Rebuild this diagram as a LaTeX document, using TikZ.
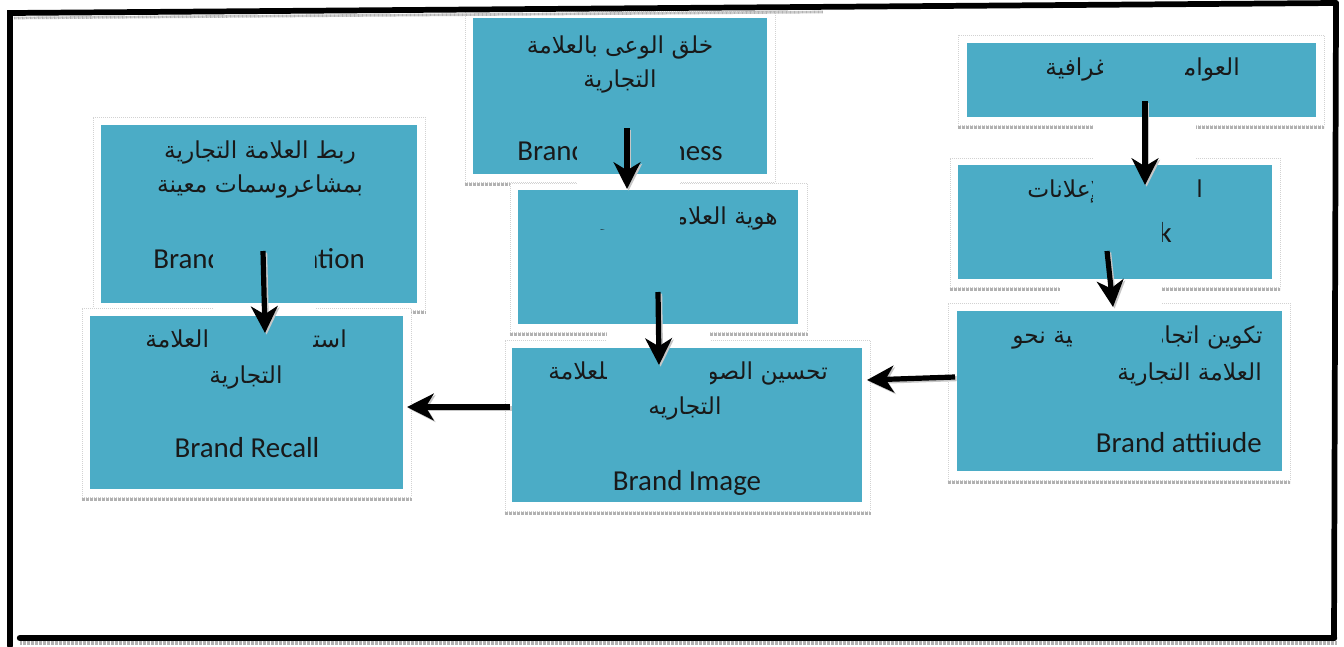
\documentclass[tikz,border=0pt]{standalone}
\usepackage{fontspec}
\usetikzlibrary{arrows.meta,fit}
\newfontfamily\arabicfont[Script=Arabic]{DejaVu Sans}
\newfontfamily\latfont{Carlito}
\TeXXeTstate=1
\definecolor{tealc}{HTML}{4BACC6}
\tikzset{
  boxfill/.style={fill=tealc, draw=none, inner sep=0pt},
  framebox/.style={fill=white, draw=gray!35, densely dotted, line width=0.5pt, inner sep=0pt},
  shadowline/.style={draw=gray!60, line width=2.5pt, dash pattern=on 0.6pt off 0.4pt},
  ar/.style={font=\arabicfont\fontsize{17.5}{21}\selectfont, inner sep=0pt, text=black!90},
  la/.style={font=\latfont\fontsize{21.7}{26}\selectfont, inner sep=0pt, text=black!90},
  arr/.style={line width=3.9pt, -{Stealth[length=20pt,width=20pt,inset=6pt]}},
  arrshadow/.style={line width=3.9pt, draw=gray!45, -{Stealth[length=20pt,width=20pt,inset=6pt]}, transform canvas={xshift=1.2pt,yshift=-1.2pt}},
  border/.style={line width=4.3pt, line cap=round},
  patch/.style={fill=tealc},
  wpatch/.style={fill=white}
}
\begin{document}
\begin{tikzpicture}[x=0.75pt,y=-0.75pt]
\useasboundingbox (0,0) rectangle (1344,646);
\fill[white] (0,0) rectangle (1344,646);

% ---------- A : awareness ----------
\node[framebox, fit={(465,11) (775,182)}] (Af) {};
\draw[shadowline] ([yshift=-1.6pt]Af.south west) -- ([yshift=-1.6pt]Af.south east);
\node[boxfill, fit={(473,18) (767,174)}] (A) {};
\node[ar, anchor=base] (A1) at (620,53) {\beginR خلق الوعى بالعلامة\endR};
\node[ar, anchor=base] (A2) at (620,87) {\beginR التجارية\endR};
\node[la, anchor=base west] (A3) at (517,160) {Brand};
\node[la, anchor=base east] (A4) at (723,160) {Awareness};

% ---------- B : demographic ----------
\node[framebox, fit={(958,35) (1324,125)}] (Bf) {};
\draw[shadowline] ([yshift=-1.6pt]Bf.south west) -- ([yshift=-1.6pt]Bf.south east);
\node[boxfill, fit={(967,43) (1316,117)}] (B) {};
\node[ar, anchor=base east] (B1) at (1240,75) {\beginR العوامل\endR};
\node[ar, anchor=base west] (B2) at (1045,75) {\beginR الديموغرافية\endR};

% ---------- G : association ----------
\node[framebox, fit={(93,117) (425,310)}] (Gf) {};
\draw[shadowline] ([yshift=-1.6pt]Gf.south west) -- ([yshift=-1.6pt]Gf.south east);
\node[boxfill, fit={(101,125) (417,303)}] (G) {};
\node[ar, anchor=base] (G1) at (260,158) {\beginR ربط العلامة التجارية\endR};
\node[ar, anchor=base] (G2) at (260,192) {\beginR بمشاعروسمات معينة\endR};
\node[la, anchor=base west] (G3) at (153,268) {Brand};
\node[la, anchor=base east] (G4) at (365,268) {Association};

% ---------- E : identity ----------
\node[framebox, fit={(510,183) (807,332)}] (Ef) {};
\draw[shadowline] ([yshift=-1.6pt]Ef.south west) -- ([yshift=-1.6pt]Ef.south east);
\node[boxfill, fit={(518,190) (798,324)}] (E) {};
\node[ar, anchor=base east] (E1) at (778,224) {\beginR هوية العلامة التجارية\endR};

% ---------- C : links ----------
\node[framebox, fit={(950,158) (1280,287)}] (Cf) {};
\draw[shadowline] ([yshift=-1.6pt]Cf.south west) -- ([yshift=-1.6pt]Cf.south east);
\node[boxfill, fit={(958,165) (1272,279)}] (C) {};
\node[ar, anchor=base east] (C1) at (1203,197) {\beginR الروابط\endR};
\node[ar, anchor=base west] (C2) at (1027,197) {\beginR والإعلانات\endR};
\node[la, anchor=base east] (C3) at (1172,242) {Brand Link};

% ---------- H : recall ----------
\node[framebox, fit={(82,308) (411,497)}] (Hf) {};
\draw[shadowline] ([yshift=-1.6pt]Hf.south west) -- ([yshift=-1.6pt]Hf.south east);
\node[boxfill, fit={(90,316) (403,489)}] (H) {};
\node[ar, anchor=base east] (H1) at (347,347) {\beginR استدعاء\endR};
\node[ar, anchor=base west] (H2) at (145,347) {\beginR العلامة\endR};
\node[ar, anchor=base] (H3) at (246,383) {\beginR التجارية\endR};
\node[la, anchor=base] (H4) at (247,457) {Brand Recall};

% ---------- F : image ----------
\node[framebox, fit={(505,340) (870,511)}] (Ff) {};
\draw[shadowline] ([yshift=-1.6pt]Ff.south west) -- ([yshift=-1.6pt]Ff.south east);
\node[boxfill, fit={(512,348) (862,502)}] (F) {};
\node[ar, anchor=base east] (F1) at (828,379) {\beginR تحسين الصورة\endR};
\node[ar, anchor=base west] (F2) at (548,379) {\beginR الذهنية للعلامة\endR};
\node[ar, anchor=base] (F3) at (685,414) {\beginR التجاريه\endR};
\node[la, anchor=base] (F4) at (687,490) {Brand Image};

% ---------- D : attitude ----------
\node[framebox, fit={(948,303) (1290,480)}] (Df) {};
\draw[shadowline] ([yshift=-1.6pt]Df.south west) -- ([yshift=-1.6pt]Df.south east);
\node[boxfill, fit={(957,311) (1282,471)}] (D) {};
\node[ar, anchor=base east] (D1) at (1263,343) {\beginR تكوين اتجاهات\endR};
\node[ar, anchor=base west] (D2) at (1012,343) {\beginR إيجابية نحو\endR};
\node[ar, anchor=base east] (D3) at (1262,380) {\beginR العلامة التجارية\endR};
\node[la, anchor=base east] (D4) at (1262,452) {Brand attiiude};

% ---------- patches left by the arrows ----------
\fill[patch] (577,120) rectangle (680,174);
\fill[wpatch] (577,174) rectangle (680,190);
\fill[patch] (577,190) rectangle (680,229);
\fill[patch] (1103,50) rectangle (1185,117);
\fill[wpatch] (1093,117) rectangle (1196,165);
\fill[patch] (1093,165) rectangle (1196,214);
\fill[patch] (1050,214) rectangle (1162,279);
\fill[wpatch] (1060,279) rectangle (1162,311);
\fill[patch] (1072,311) rectangle (1162,360);
\fill[wpatch] (607,324) rectangle (710,348);
\fill[patch] (607,348) rectangle (710,392);
\fill[patch] (213,235) rectangle (315,303);
\fill[wpatch] (213,303) rectangle (315,316);
\fill[patch] (213,316) rectangle (313,362);

% ---------- arrows ----------
\coordinate (ae1) at (627,128); \coordinate (ae2) at (627,189);
\coordinate (bc1) at (1145,101); \coordinate (bc2) at (1145,185);
\coordinate (cd1) at (1107,251); \coordinate (cd2) at (1113,307);
\coordinate (ef1) at (658,292); \coordinate (ef2) at (659,365);
\coordinate (gh1) at (263,251); \coordinate (gh2) at (265,333);
\coordinate (df1) at (955,377); \coordinate (df2) at (867,380);
\coordinate (fh1) at (510,407); \coordinate (fh2) at (407,407);
\foreach \s/\t in {ae1/ae2,bc1/bc2,cd1/cd2,ef1/ef2,gh1/gh2,df1/df2,fh1/fh2}{
  \draw[arrshadow] (\s) -- (\t);
  \draw[arr] (\s) -- (\t);
}

% ---------- outer border ----------
\draw[gray!60, line width=2pt, dash pattern=on 0.6pt off 0.4pt] (14,18) -- (823,12);
\draw[gray!60, line width=3pt, dash pattern=on 0.6pt off 0.4pt] (20,643) -- (1336,643);
\coordinate (tl) at (10,13);
\coordinate (tr) at (1336,3);
\coordinate (br) at (1334,638);
\coordinate (bl) at (20,638);
\coordinate (lb) at (10,646);
\draw[border] (lb) -- (tl) -- (tr);
\draw[border] (tr) -- (br);
\draw[border, line width=4.8pt] (bl) -- (br);
\end{tikzpicture}
\end{document}
